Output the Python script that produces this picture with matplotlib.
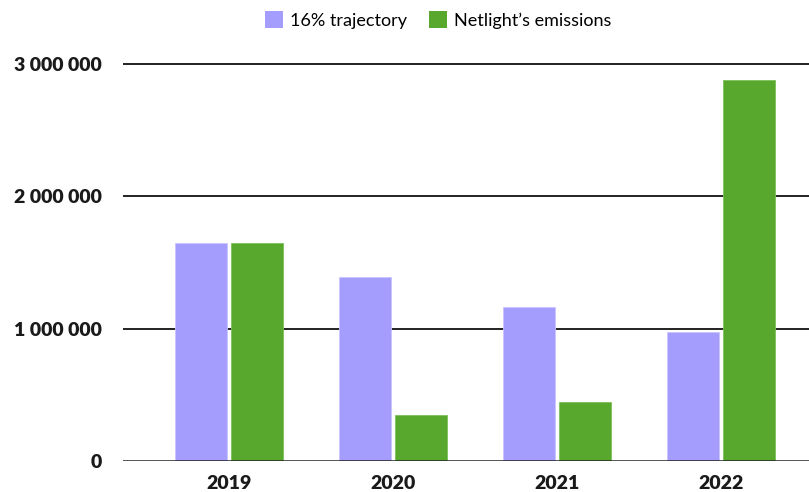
import matplotlib
matplotlib.use("Agg")
import matplotlib.pyplot as plt
import numpy as np
from matplotlib.patches import Patch

years = ["2019", "2020", "2021", "2022"]
trajectory = [1647000, 1390000, 1164000, 975000]
emissions = [1647000, 348000, 446000, 2879000]
yticks = [0, 1000000, 2000000, 3000000]

purple = "#a59dfd"
green = "#59a82e"

plt.rcParams['font.family'] = ['Lato', 'DejaVu Sans']

fig = plt.figure(figsize=(8.09, 4.92), dpi=100)
W, H = 809, 492
ax = fig.add_axes([123 / W, 1 - 461 / H, (W - 123) / W, (461 - 50) / H])

x = np.arange(len(years))
bw = 0.317
ax.bar(x - 0.168, trajectory, bw, color=purple, edgecolor="#c9c4ff", linewidth=0.6, zorder=3)
ax.bar(x + 0.168, emissions, bw, color=green, edgecolor="#7cc05a", linewidth=0.6, zorder=3)

ax.set_xlim((123 - 229) / 164, (809 - 229) / 164)
ax.set_ylim(0, 3e6 * (461 - 50) / 397)

ax.set_yticks(yticks)
ax.set_yticklabels(["{:,}".format(v).replace(",", " ") for v in yticks],
                   fontsize=14, fontweight="heavy", color="#1a1a1a")
ax.set_xticks(x)
ax.set_xticklabels(years, fontsize=14, fontweight="heavy", color="#1a1a1a")
ax.tick_params(axis="y", length=0, pad=15)
ax.tick_params(axis="x", length=0, pad=10)

for v in yticks:
    ax.axhline(v, color="#222222", linewidth=1.4 if v else 1.8, zorder=2 if v else 4)

for s in ax.spines.values():
    s.set_visible(False)

handles = [Patch(facecolor=purple, label="16% trajectory"),
           Patch(facecolor=green, label="Netlight\u2019s emissions")]
fig.legend(handles=handles, loc="center", bbox_to_anchor=(438 / W, 1 - 20 / H),
           ncol=2, frameon=False, fontsize=13, handlelength=1.0, handleheight=1.0,
           handletextpad=0.4, columnspacing=1.2)

fig.savefig("out.png", dpi=100)
